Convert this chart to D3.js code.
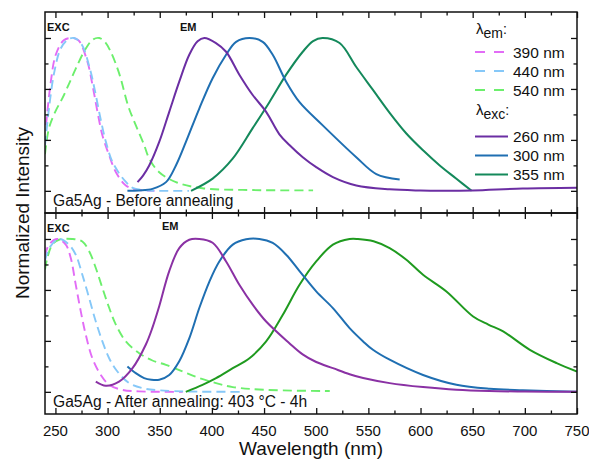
<!DOCTYPE html>
<html><head><meta charset="utf-8">
<script src="https://cdn.jsdelivr.net/npm/d3@7"></script>
<style>
body{margin:0;background:#fff}
svg{display:block}
text{font-family:"Liberation Sans",Arial,Helvetica,sans-serif;fill:#111}
</style>
</head><body>
<svg id="chart" width="589" height="460"></svg>
<script>
// ---------- DATA (wavelength nm, normalized intensity) ----------
const xMajorTicks = [250,300,350,400,450,500,550,600,650,700,750];
const xMinorTicks = [275,325,375,425,475,525,575,625,675,725];
const yMajorTicks = [0,1/3,2/3,1];
const yMinorTicks = [1/6,1/2,5/6];

// Top panel: before annealing
const topExc390 = [[241,0.43],[245.5,0.71],[250.3,0.89],[258,0.985],[265,1.0],[272,0.985],[280.6,0.846],[285.5,0.693],[290.3,0.517],[295,0.364],[301.5,0.232],[308,0.122],[317.5,0.035],[327,0.008],[335,0.002],[345,0]];
const topExc440 = [[240,0.30],[244,0.55],[249,0.78],[255,0.93],[262,0.99],[268,1.0],[275,0.96],[283,0.8],[288,0.65],[293,0.48],[298,0.33],[304,0.2],[311,0.115],[318,0.055],[324,0.02],[335,0.005],[350,0],[378,0]];
const topExc540 = [[240,0.24],[243.8,0.41],[250,0.52],[256.6,0.605],[263,0.70],[269.5,0.80],[279,0.93],[286,0.99],[292,1.0],[298,0.97],[303,0.91],[311,0.77],[320,0.55],[327,0.43],[335,0.30],[340,0.21],[349.5,0.122],[365.5,0.057],[391,0.017],[439,0.005],[497,0.003]];
const topEm260 = [[328.7,0.057],[334,0.10],[339.9,0.166],[349.5,0.32],[359.1,0.517],[368.7,0.714],[378.3,0.89],[386.3,0.978],[392.7,1.0],[403.9,0.967],[413.6,0.91],[426.3,0.76],[439.1,0.627],[452,0.517],[464.7,0.37],[474.3,0.30],[487.1,0.22],[500,0.155],[516,0.09],[538.4,0.035],[570.4,0.01],[600,0.002],[618.4,0],[650,0.002],[698,0.015],[750,0.02]];
const topEm300 = [[319,0.0],[330,0.003],[343,0.013],[356,0.057],[365.5,0.166],[375.1,0.32],[388,0.54],[400.7,0.737],[413.6,0.89],[423.2,0.975],[436,1.0],[448.7,0.975],[458.3,0.89],[471.2,0.714],[484,0.58],[506,0.43],[538.4,0.22],[557.6,0.11],[580,0.074]];
const topEm355 = [[380,0],[400.7,0.08],[419.9,0.21],[439.1,0.41],[455.1,0.58],[471.2,0.76],[487.1,0.91],[497,0.98],[506,1.0],[522.4,0.967],[538.4,0.81],[554.4,0.66],[570.4,0.51],[586.4,0.375],[602.4,0.265],[618.4,0.166],[634.4,0.079],[649,0.0]];

// Bottom panel: after annealing
const botExc390 = [[240,0.89],[243.8,0.963],[251.8,1.0],[259.9,0.963],[264.7,0.875],[269.5,0.70],[274.3,0.526],[279.1,0.373],[285.4,0.22],[293.5,0.11],[301.5,0.046],[314,0.013],[330,0.003],[372,0]];
const botExc440 = [[240,0.86],[245,0.95],[253.4,1.0],[263,0.963],[269.5,0.897],[275.8,0.766],[282.3,0.614],[288.7,0.46],[295,0.33],[301.5,0.22],[309.4,0.133],[320.7,0.057],[333.5,0.024],[349.5,0.01],[380,0.002],[430,0]];
const botExc540 = [[240,0.80],[242.2,0.875],[247,0.963],[253.4,0.995],[266.2,1.0],[275.8,0.984],[282.3,0.92],[288.7,0.81],[295,0.68],[301.5,0.55],[307.9,0.44],[317.5,0.33],[330.3,0.253],[343,0.205],[355.9,0.177],[371.9,0.133],[388,0.09],[404,0.057],[420,0.031],[452,0.013],[513,0.005]];
const botEm260 = [[288.7,0.067],[298.3,0.04],[311,0.067],[323.9,0.155],[336.7,0.31],[343,0.42],[349.5,0.56],[359.1,0.79],[368.7,0.94],[378.3,0.995],[387.9,1.0],[400.7,0.975],[413.6,0.853],[426.3,0.70],[439.1,0.57],[452,0.46],[474,0.32],[487,0.245],[500,0.195],[516,0.155],[532,0.115],[545,0.09],[570.4,0.057],[602.4,0.031],[634.4,0.013],[666,0.005],[700,0.002],[750,0]];
const botEm300 = [[319,0.166],[327,0.122],[335,0.09],[342,0.079],[349.5,0.079],[359.1,0.11],[368.7,0.2],[378.3,0.35],[388,0.55],[397.5,0.72],[407.1,0.853],[420,0.963],[432.8,0.998],[445.5,1.0],[458.3,0.974],[471.2,0.897],[484,0.79],[500,0.657],[516,0.548],[532,0.417],[545,0.33],[554.4,0.275],[570.4,0.21],[602.4,0.11],[634.4,0.046],[666.4,0.02],[698,0.01],[750,0]];
const botEm355 = [[375,0.0],[391,0.046],[404,0.09],[420,0.155],[436,0.22],[452,0.33],[468,0.504],[484,0.70],[500,0.853],[516,0.963],[532,1.0],[540,1.0],[555,0.985],[570.4,0.94],[586.4,0.864],[602.4,0.766],[624.8,0.657],[650.4,0.493],[665,0.44],[679.2,0.395],[704.8,0.275],[730.5,0.188],[750,0.133]];

const legendEmLabels = ["390 nm","440 nm","540 nm"];
const legendExcLabels = ["260 nm","300 nm","355 nm"];
const panelTitles = ["Ga5Ag - Before annealing","Ga5Ag - After annealing: 403 °C - 4h"];

// ---------- STYLE ----------
const C = {
  mag:"#e26cf6", lblue:"#86c8f8", lgreen:"#6cef6c",
  purpleTop:"#6b2ea3", purpleBot:"#8a31a4",
  blue:"#1f6fb2", greenTop:"#14895b", greenBot:"#1f9a1f"
};
const DASH = "9,5";

const svg = d3.select("#chart");
const L = 45, R = 577;
const panels = [{top:12,bottom:213},{top:213,bottom:414}];
const x = d3.scaleLinear().domain([240,750]).range([L,R]);
const yDomain = [-0.145,1.17];
const yS = panels.map(p => d3.scaleLinear().domain(yDomain).range([p.bottom,p.top]));

const defs = svg.append("defs");
panels.forEach((p,i)=>{
  defs.append("clipPath").attr("id","clip"+i).append("rect")
    .attr("x",L).attr("y",p.top).attr("width",R-L).attr("height",p.bottom-p.top);
});

function drawSeries(i, data, color, dashed){
  const line = d3.line().x(d=>x(d[0])).y(d=>yS[i](d[1])).curve(d3.curveCatmullRom.alpha(0.5));
  svg.append("path").attr("clip-path",`url(#clip${i})`)
    .attr("d",line(data)).attr("fill","none").attr("stroke",color)
    .attr("stroke-width",dashed?1.9:2).attr("stroke-dasharray",dashed?DASH:null)
    .attr("stroke-linejoin","round");
}

drawSeries(0, topExc540, C.lgreen, true);
drawSeries(0, topExc390, C.mag, true);
drawSeries(0, topExc440, C.lblue, true);
drawSeries(0, topEm355, C.greenTop, false);
drawSeries(0, topEm300, C.blue, false);
drawSeries(0, topEm260, C.purpleTop, false);

drawSeries(1, botExc540, C.lgreen, true);
drawSeries(1, botExc390, C.mag, true);
drawSeries(1, botExc440, C.lblue, true);
drawSeries(1, botEm355, C.greenBot, false);
drawSeries(1, botEm300, C.blue, false);
drawSeries(1, botEm260, C.purpleBot, false);

// axes (inward ticks)
panels.forEach((p,i)=>{
  const g = svg.append("g");
  const mk = (axis, vals, size, tx, ty) => {
    const a = g.append("g").attr("transform",`translate(${tx},${ty})`)
      .call(axis.tickValues(vals).tickSize(-size).tickFormat(""));
    a.select(".domain").remove();
    a.selectAll("line").attr("stroke","#111").attr("stroke-width",1.3);
  };
  mk(d3.axisBottom(x), xMajorTicks, 6, 0, p.bottom);
  mk(d3.axisBottom(x), xMinorTicks, 3.5, 0, p.bottom);
  mk(d3.axisTop(x), xMajorTicks, 6, 0, p.top);
  mk(d3.axisTop(x), xMinorTicks, 3.5, 0, p.top);
  mk(d3.axisLeft(yS[i]), yMajorTicks, 6, L, 0);
  mk(d3.axisLeft(yS[i]), yMinorTicks, 3.5, L, 0);
  mk(d3.axisRight(yS[i]), yMajorTicks, 6, R, 0);
  mk(d3.axisRight(yS[i]), yMinorTicks, 3.5, R, 0);
  svg.append("rect").attr("x",L).attr("y",p.top).attr("width",R-L).attr("height",p.bottom-p.top)
    .attr("fill","none").attr("stroke","#111").attr("stroke-width",1.5);
});

// x tick labels
svg.append("g").selectAll("text").data(xMajorTicks).join("text")
  .attr("x",d=>x(d)).attr("y",435.5).attr("text-anchor","middle")
  .style("font-size","15px").text(d=>d);

// axis titles
svg.append("text").attr("x",(L+R)/2).attr("y",455).attr("text-anchor","middle")
  .style("font-size","19px").text("Wavelength (nm)");
svg.append("text").attr("transform","translate(29,213) rotate(-90)").attr("text-anchor","middle")
  .style("font-size","19px").text("Normalized Intensity");

// panel annotations
[["EXC",47,31],["EM",180,31],["EXC",47,232],["EM",162,230]].forEach(t=>{
  svg.append("text").attr("x",t[1]).attr("y",t[2]).style("font-size","11px").style("font-weight","bold").text(t[0]);
});
svg.append("text").attr("x",53).attr("y",206).style("font-size","15.6px").text(panelTitles[0]);
svg.append("text").attr("x",53).attr("y",407).style("font-size","15.6px").text(panelTitles[1]);

// legend
function legendHeader(y, sub){
  const t = svg.append("text").attr("x",476).attr("y",y).style("font-size","15px");
  t.append("tspan").text("λ");
  t.append("tspan").attr("dy",4).style("font-size","14px").text(sub);
  t.append("tspan").attr("dy",-4).style("font-size","14px").text(":");
}
legendHeader(34,"em");
legendHeader(115,"exc");
const emColors=[C.mag,C.lblue,C.lgreen], excColors=[C.purpleTop,C.blue,C.greenTop];
const emY=[52,71,90], excY=[136.5,155.5,174.5];
legendEmLabels.forEach((lab,i)=>{
  svg.append("line").attr("x1",475).attr("x2",508).attr("y1",emY[i]).attr("y2",emY[i])
    .attr("stroke",emColors[i]).attr("stroke-width",2).attr("stroke-dasharray","10,9");
  svg.append("text").attr("x",513).attr("y",emY[i]+5.5).style("font-size","15.5px").text(lab);
});
legendExcLabels.forEach((lab,i)=>{
  svg.append("line").attr("x1",475).attr("x2",508).attr("y1",excY[i]).attr("y2",excY[i])
    .attr("stroke",excColors[i]).attr("stroke-width",2);
  svg.append("text").attr("x",513).attr("y",excY[i]+5.5).style("font-size","15.5px").text(lab);
});
</script>
</body></html>
